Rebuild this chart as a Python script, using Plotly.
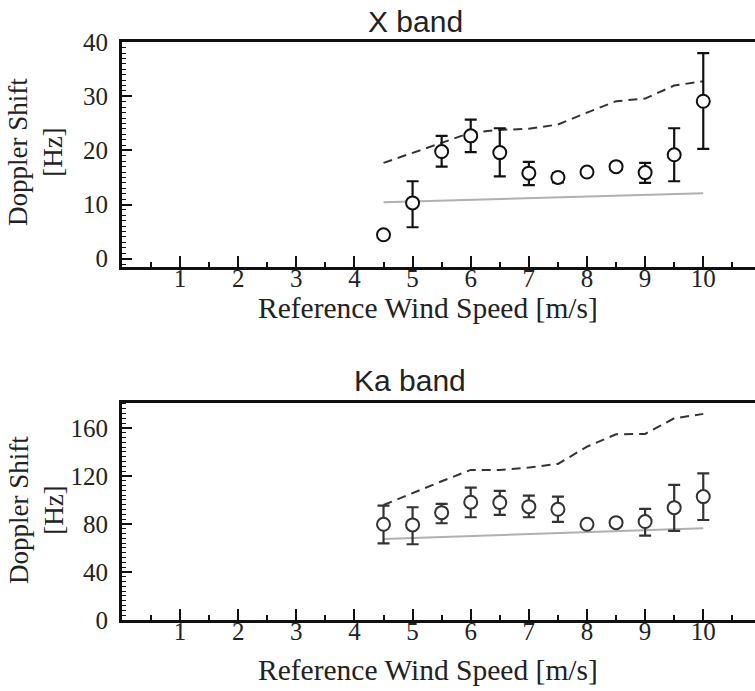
import plotly.graph_objects as go
from plotly.subplots import make_subplots

# ---------------- data ----------------
wind = [4.5, 5.0, 5.5, 6.0, 6.5, 7.0, 7.5, 8.0, 8.5, 9.0, 9.5, 10.0]

x_mean = [4.4, 10.3, 19.8, 22.7, 19.6, 15.8, 15.0, 16.0, 17.0, 15.9, 19.2, 29.1]
x_upper = [4.4, 14.3, 22.7, 25.7, 24.1, 17.9, 15.8, 16.0, 17.6, 17.7, 24.1, 38.0]
x_lower = [4.4, 5.8, 17.0, 19.7, 15.2, 13.6, 14.1, 16.0, 16.4, 14.0, 14.3, 20.3]
x_dashed = [17.7, 19.5, 21.4, 23.3, 23.8, 24.0, 24.8, 27.0, 29.1, 29.6, 32.0, 32.8]
x_gray_wind = [4.5, 10.0]
x_gray = [10.4, 12.1]

ka_mean = [79.7, 79.2, 89.4, 98.1, 97.8, 94.4, 92.2, 79.7, 81.1, 82.0, 93.6, 102.8]
ka_upper = [95.3, 93.9, 96.7, 110.3, 107.5, 103.6, 102.8, 79.7, 81.1, 92.5, 112.5, 122.2]
ka_lower = [63.9, 63.1, 80.6, 85.6, 87.5, 85.6, 81.7, 79.7, 81.1, 70.3, 74.2, 83.3]
ka_dashed = [95.8, 105.8, 115.6, 125.0, 125.0, 127.0, 130.0, 144.4, 154.7, 155.0, 168.0, 171.7]
ka_gray_wind = [4.5, 10.0]
ka_gray = [67.5, 76.4]

x_ticks = [1, 2, 3, 4, 5, 6, 7, 8, 9, 10]
x_band_yticks = [0, 10, 20, 30, 40]
ka_band_yticks = [0, 40, 80, 120, 160]

titles = ["X band", "Ka band"]
x_title = "Reference Wind Speed [m/s]"
y_title = "Doppler Shift<br>[Hz]"

# ---------------- figure ----------------
W, H = 755, 691
fig = make_subplots(rows=2, cols=1)

SERIF = "Liberation Serif, Times New Roman, serif"
SANS = "Liberation Sans, Arial, sans-serif"


def add_panel(row, mean, upper, lower, dashed, gwind, gray, mcolor):
    fig.add_trace(go.Scatter(x=gwind, y=gray, mode="lines",
                             line=dict(color="#b0b0b0", width=2),
                             showlegend=False, hoverinfo="skip"), row=row, col=1)
    fig.add_trace(go.Scatter(x=wind, y=dashed, mode="lines",
                             line=dict(color="#333333", width=2, dash="9px,6px"),
                             showlegend=False, hoverinfo="skip"), row=row, col=1)
    plus = [u - m for u, m in zip(upper, mean)]
    minus = [m - l for m, l in zip(mean, lower)]
    fig.add_trace(go.Scatter(x=wind, y=mean, mode="markers",
                             marker=dict(symbol="circle", size=13, color="white",
                                         line=dict(color=mcolor, width=2)),
                             error_y=dict(type="data", symmetric=False, array=plus,
                                          arrayminus=minus, color=mcolor,
                                          thickness=2.2, width=6),
                             showlegend=False), row=row, col=1)


add_panel(1, x_mean, x_upper, x_lower, x_dashed, x_gray_wind, x_gray, "#111111")
add_panel(2, ka_mean, ka_upper, ka_lower, ka_dashed, ka_gray_wind, ka_gray, "#333333")

left = 121.9 / W
xaxis_common = dict(
    domain=[left, 1.0], range=[0, 10.89], tickmode="array", tickvals=x_ticks,
    ticks="inside", ticklen=11, tickwidth=2, tickcolor="#111",
    minor=dict(ticks="inside", dtick=0.5, tick0=0, ticklen=5, tickwidth=1.5, tickcolor="#111"),
    showline=True, linewidth=3, linecolor="#111", mirror=True,
    showgrid=False, zeroline=False, automargin=False,
    tickfont=dict(family=SERIF, size=25, color="#222"), ticklabelstandoff=-13,
)
fig.update_xaxes(**xaxis_common, row=1, col=1)
fig.update_xaxes(**xaxis_common, row=2, col=1)

yaxis_common = dict(
    ticks="inside", ticklen=10, tickwidth=2, tickcolor="#111",
    showline=True, linewidth=3, linecolor="#111", mirror=False,
    showgrid=False, zeroline=False, automargin=False, tickmode="array",
    tickfont=dict(family=SERIF, size=25, color="#222"), ticklabelstandoff=6,
)
fig.update_yaxes(**yaxis_common, domain=[1 - 266.7 / H, 1 - 42.3 / H], range=[-1.5, 40],
                 tickvals=x_band_yticks,
                 minor=dict(ticks="inside", dtick=1, tick0=0, ticklen=4, tickwidth=1, tickcolor="#111"),
                 row=1, col=1)
fig.update_yaxes(**yaxis_common, domain=[1 - 620 / H, 1 - 402.7 / H], range=[0, 181],
                 tickvals=ka_band_yticks,
                 minor=dict(ticks="inside", dtick=4, tick0=0, ticklen=4, tickwidth=1, tickcolor="#111"),
                 row=2, col=1)

ann = []
ann.append(dict(text=titles[0], x=415 / W, y=1 - 21 / H, xref="paper", yref="paper",
                showarrow=False, xanchor="center", yanchor="middle",
                font=dict(family=SANS, size=30, color="#222")))
ann.append(dict(text=titles[1], x=410 / W, y=1 - 380 / H, xref="paper", yref="paper",
                showarrow=False, xanchor="center", yanchor="middle",
                font=dict(family=SANS, size=30, color="#222")))
for yc in (308, 670):
    ann.append(dict(text=x_title, x=428 / W, y=1 - yc / H, xref="paper", yref="paper",
                    showarrow=False, xanchor="center", yanchor="middle",
                    font=dict(family=SERIF, size=29.5, color="#222")))
for yc in (152, 510):
    ann.append(dict(text=y_title, x=36 / W, y=1 - yc / H, xref="paper", yref="paper",
                    showarrow=False, xanchor="center", yanchor="middle", textangle=-90,
                    font=dict(family=SERIF, size=27, color="#222")))

fig.update_layout(width=W, height=H, margin=dict(l=0, r=0, t=0, b=0),
                  paper_bgcolor="white", plot_bgcolor="white", annotations=ann,
                  showlegend=False)

fig.write_html("out.html", config={"displayModeBar": False},
               post_script="document.body.style.margin='0';document.body.style.overflow='hidden';")
